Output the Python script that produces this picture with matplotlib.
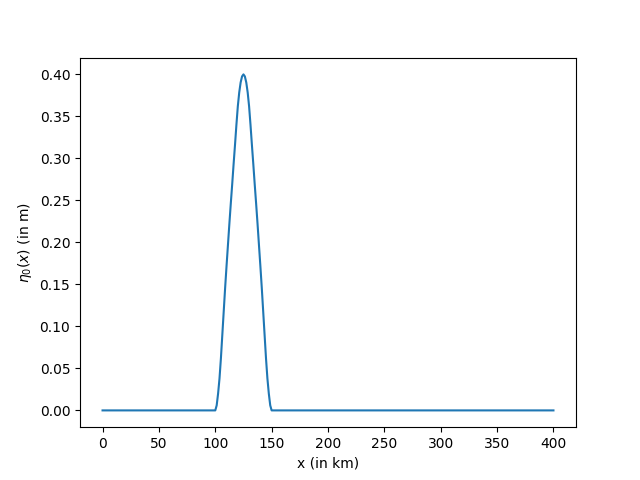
import numpy as np
import matplotlib
matplotlib.use("Agg")
import matplotlib.pyplot as plt

# initial surface elevation (x in km, eta in m)
x_km = [0, 100, 101.25, 102.5, 103.75, 105, 106.25, 107.5, 108.75, 110,
        111.25, 112.5, 113.75, 115, 116.25, 117.5, 118.75, 120, 121.25,
        122.5, 123.75, 125, 126.25, 127.5, 128.75, 130, 131.25, 132.5,
        133.75, 135, 136.25, 137.5, 138.75, 140, 141.25, 142.5, 143.75,
        145, 146.25, 147.5, 148.75, 150, 400]
eta0 = [0.0, 0.0, 0.006, 0.020, 0.038, 0.062, 0.090, 0.118, 0.146, 0.172,
        0.197, 0.222, 0.246, 0.269, 0.293, 0.316, 0.340, 0.362, 0.3785,
        0.3904, 0.3976, 0.400, 0.3976, 0.3904, 0.3785, 0.362, 0.340, 0.316,
        0.293, 0.269, 0.246, 0.222, 0.197, 0.172, 0.146, 0.118, 0.090,
        0.062, 0.038, 0.020, 0.006, 0.0, 0.0]

fig, ax = plt.subplots(figsize=(6.4, 4.8), dpi=100)
ax.plot(x_km, eta0)
ax.set_xlabel("x (in km)")
ax.set_ylabel(r"$\eta_0(x)$ (in m)")

fig.savefig("out.png", dpi=100)
